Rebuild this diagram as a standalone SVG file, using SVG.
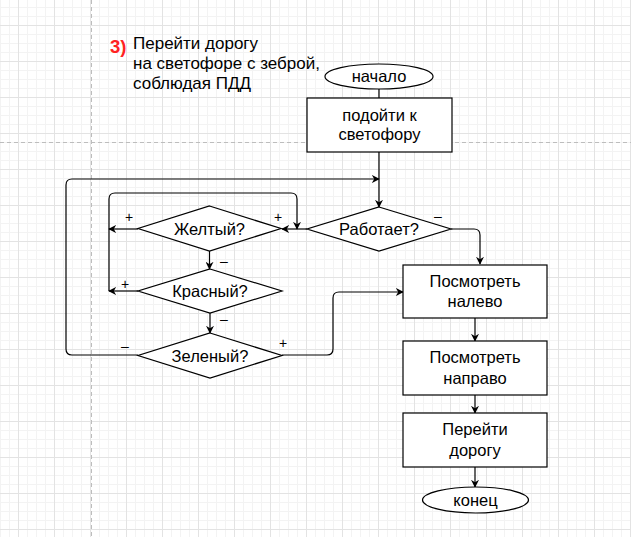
<svg xmlns="http://www.w3.org/2000/svg" width="631" height="537" viewBox="0 0 631 537">
<defs>
<pattern id="minor" patternUnits="userSpaceOnUse" x="0" y="7" width="9" height="9">
<path d="M0 0.5 H9 M0.5 0 V9" fill="none" stroke="#f3f3f3" stroke-width="1"/>
</pattern>
<pattern id="major" patternUnits="userSpaceOnUse" x="18" y="25" width="36" height="36">
<path d="M0 0.5 H36 M0.5 0 V36" fill="none" stroke="#e3e3e3" stroke-width="1"/>
</pattern>
<marker id="arr" viewBox="0 0 10 10" refX="9" refY="5" markerWidth="8" markerHeight="8" markerUnits="userSpaceOnUse" orient="auto">
<path d="M0 0 L10 5 L0 10 L3 5 Z" fill="#000"/>
</marker>
<style>
.shape{fill:#fff;stroke:#000;stroke-width:1.2}
.t{font-family:"Liberation Sans",Arial,sans-serif;font-size:16.5px;fill:#000;text-anchor:middle}
.lbl{font-family:"Liberation Sans",Arial,sans-serif;font-size:14px;fill:#000;text-anchor:middle}
.c{fill:none;stroke:#000;stroke-width:1.2}
.ca{fill:none;stroke:#000;stroke-width:1.2;marker-end:url(#arr)}
</style>
</defs>
<rect width="631" height="537" fill="#fff"/>
<rect width="631" height="537" fill="url(#minor)"/>
<rect width="631" height="537" fill="url(#major)"/>
<path d="M0 142.5 H631 M91.5 0 V537" stroke="#bdbdbd" stroke-width="1" stroke-dasharray="4,3" fill="none"/>

<g id="title">
<text x="110" y="53" font-family="'Liberation Sans',Arial,sans-serif" font-size="18.5" font-weight="bold" fill="#ff2222">3)</text>
<text font-family="'Liberation Sans',Arial,sans-serif" font-size="17" fill="#000">
<tspan x="133" y="48.5">Перейти дорогу</tspan>
<tspan x="133" y="68.5">на светофоре с зеброй,</tspan>
<tspan x="133" y="88.5">соблюдая ПДД</tspan>
</text>
</g>

<g id="connectors">
<path class="c" d="M379 89 V98"/>
<path class="ca" d="M379 152 V207"/>
<path class="ca" d="M451 229 H474 Q480 229 480 235 V264"/>
<path class="ca" d="M307 229 H282"/>
<path class="ca" d="M138 229 H109"/>
<path class="ca" d="M209.5 251 V269"/>
<path class="ca" d="M138 291 H109"/>
<path class="ca" d="M109 291 V199 Q109 193 115 193 H291 Q297 193 297 199 V229"/>
<path class="ca" d="M210 313 V333"/>
<path class="ca" d="M138 355 H72 Q66 355 66 349 V185 Q66 179 72 179 H379"/>
<path class="ca" d="M282 355 H327 Q333 355 333 349 V298 Q333 292 339 292 H403"/>
<path class="ca" d="M475 318 V341"/>
<path class="ca" d="M475 395 V413"/>
<path class="ca" d="M475 467 V487"/>
</g>

<g id="labels">
<text class="lbl" x="129" y="222">+</text>
<text class="lbl" x="278" y="222">+</text>
<text class="lbl" x="438" y="221">–</text>
<text class="lbl" x="224" y="266">–</text>
<text class="lbl" x="125" y="289">+</text>
<text class="lbl" x="224" y="324">–</text>
<text class="lbl" x="125" y="351">–</text>
<text class="lbl" x="283" y="348">+</text>
</g>

<g id="start">
<ellipse class="shape" cx="379" cy="76.5" rx="54" ry="12.5"/>
<text class="t" x="379" y="82">начало</text>
</g>
<g id="approach">
<rect class="shape" x="307" y="98" width="145" height="54"/>
<text class="t" x="379.5" y="120.5">подойти к</text>
<text class="t" x="379.5" y="140">светофору</text>
</g>
<g id="works">
<polygon class="shape" points="379,207 451,229 379,251 307,229"/>
<text class="t" x="379" y="235">Работает?</text>
</g>
<g id="yellow">
<polygon class="shape" points="209.5,206 281,228.5 209.5,251 138,228.5"/>
<text class="t" x="209.5" y="234.5">Желтый?</text>
</g>
<g id="red">
<polygon class="shape" points="210,269 282,291 210,313 138,291"/>
<text class="t" x="210" y="297">Красный?</text>
</g>
<g id="green">
<polygon class="shape" points="210,333 282,355.5 210,378 138,355.5"/>
<text class="t" x="210" y="361.5">Зеленый?</text>
</g>
<g id="look-left">
<rect class="shape" x="403" y="265" width="144" height="53"/>
<text class="t" x="475" y="287">Посмотреть</text>
<text class="t" x="475" y="307">налево</text>
</g>
<g id="look-right">
<rect class="shape" x="403" y="341" width="144" height="54"/>
<text class="t" x="475" y="363">Посмотреть</text>
<text class="t" x="475" y="384">направо</text>
</g>
<g id="cross">
<rect class="shape" x="403" y="413" width="144" height="54"/>
<text class="t" x="475" y="435">Перейти</text>
<text class="t" x="475" y="456">дорогу</text>
</g>
<g id="end">
<ellipse class="shape" cx="475.5" cy="500" rx="53" ry="13"/>
<text class="t" x="475.5" y="505.5">конец</text>
</g>
</svg>
